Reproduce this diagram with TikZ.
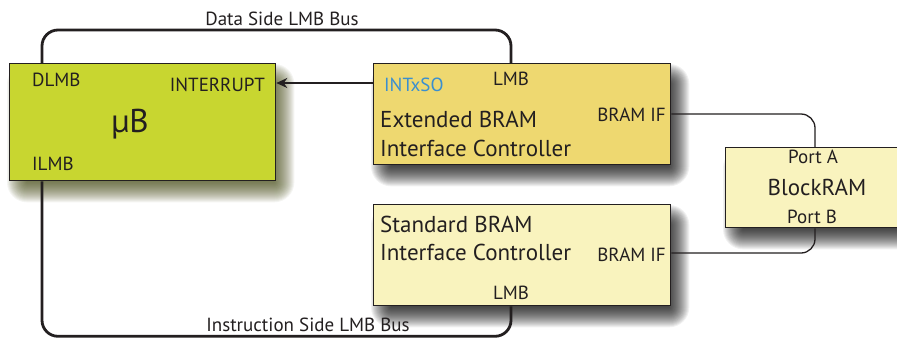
\documentclass[tikz,border=0pt]{standalone}
\usepackage{fontspec}
\setmainfont{PT Sans}
\usetikzlibrary{arrows.meta, calc}
\definecolor{ubgreen}{RGB}{200,214,48}
\definecolor{extyellow}{RGB}{238,216,112}
\definecolor{paleyellow}{RGB}{249,243,190}
\definecolor{sigblue}{RGB}{58,143,208}
\definecolor{ink}{RGB}{35,31,32}
\definecolor{olive}{RGB}{70,76,20}

\pgfdeclarelayer{paper}
\pgfdeclarelayer{shade}
\pgfsetlayers{paper,shade,main}

\begin{document}
\begin{tikzpicture}[x=1pt,y=-1pt,
  block/.style={draw=ink, line width=1.3pt, inner sep=0pt, anchor=north west},
  port/.style={font=\fontsize{19}{22}\selectfont, text=ink, inner sep=0pt},
  title/.style={font=\fontsize{23}{27}\selectfont, text=ink, inner sep=0pt},
  bus/.style={draw=ink, line width=2.8pt, rounded corners=16pt},
  link/.style={draw=ink, line width=1.3pt, rounded corners=14pt}]

\begin{pgfonlayer}{paper}
\fill[white] (0,0) rectangle (897,338);
\end{pgfonlayer}
\useasboundingbox (0,0) rectangle (897,338);

% blocks
\node[block, fill=ubgreen, minimum width=266pt, minimum height=117pt] (ub) at (9,63) {};
\node[block, fill=extyellow, minimum width=297pt, minimum height=101pt] (ext) at (373,63) {};
\node[block, fill=paleyellow, minimum width=297pt, minimum height=101pt] (std) at (373,204) {};
\node[block, fill=paleyellow, minimum width=200pt, minimum height=80pt] (bram) at (725,147) {};

% soft drop shadows (offset 8pt right, 11pt down), built from stacked translucent layers
\begin{pgfonlayer}{shade}
\foreach \b/\c in {ub/olive, ext/black, std/black, bram/black} {
  \foreach \r in {0,...,20} {
    \fill[\c, opacity=0.055, rounded corners=\r pt]
      ([xshift=18pt-\r pt, yshift=\r pt-21pt]\b.north west)
      rectangle ([xshift=\r pt-2pt, yshift=-1pt-\r pt]\b.south east);
  }
}
\end{pgfonlayer}

% MicroBlaze labels
\node[port, anchor=base west] (dlmb) at (32,86) {DLMB};
\node[port, anchor=base east] (intr) at (265,91) {INTERRUPT};
\node[font=\fontsize{33}{38}\selectfont, text=ink, inner sep=0pt, anchor=base] (ubname) at (130,132) {\symbol{"00B5}B};
\node[port, anchor=base west] (ilmb) at (32,170) {ILMB};

% extended controller labels
\node[port, anchor=base west, text=sigblue] (intxso) at (384,91) {INTxSO};
\node[port, anchor=base] (extlmb) at (511,85) {LMB};
\node[title, anchor=base west] (extl1) at (380,127) {Extended BRAM};
\node[title, anchor=base west] (extl2) at (380,156) {Interface Controller};
\node[port, anchor=base east] (extif) at (666,121) {BRAM IF};

% standard controller labels
\node[title, anchor=base west] (stdl1) at (380,232) {Standard BRAM};
\node[title, anchor=base west] (stdl2) at (380,260) {Interface Controller};
\node[port, anchor=base east] (stdif) at (666,261) {BRAM IF};
\node[port, anchor=base] (stdlmb) at (511,299) {LMB};

% block RAM labels
\node[port, anchor=base] (porta) at (813,163) {Port A};
\node[title, anchor=base] (bramname) at (817,195) {BlockRAM};
\node[port, anchor=base] (portb) at (812,223) {Port B};

% local memory buses
\draw[bus] ([xshift=33pt]ub.north west) -- ++(0,-33) -| ([xshift=138pt]ext.north west);
\draw[bus] ([xshift=33pt]ub.south west) -- ++(0,155) -| ([xshift=138pt]std.south west);
\node[port, anchor=base] (dbus) at (282,25) {Data Side LMB Bus};
\node[port, anchor=base] (ibus) at (308,331) {Instruction Side LMB Bus};

% interrupt line
\draw[ink, line width=1.3pt, -{Stealth[length=11pt,width=10pt]}]
  ([yshift=-20pt]ext.north west) -- ([yshift=-20pt]ub.north east);

% BRAM ports
\draw[link] ([yshift=-51pt]ext.north east) -| ([xshift=90pt]bram.north west);
\draw[link] ([yshift=-49pt]std.north east) -| ([xshift=90pt]bram.south west);
\end{tikzpicture}
\end{document}
